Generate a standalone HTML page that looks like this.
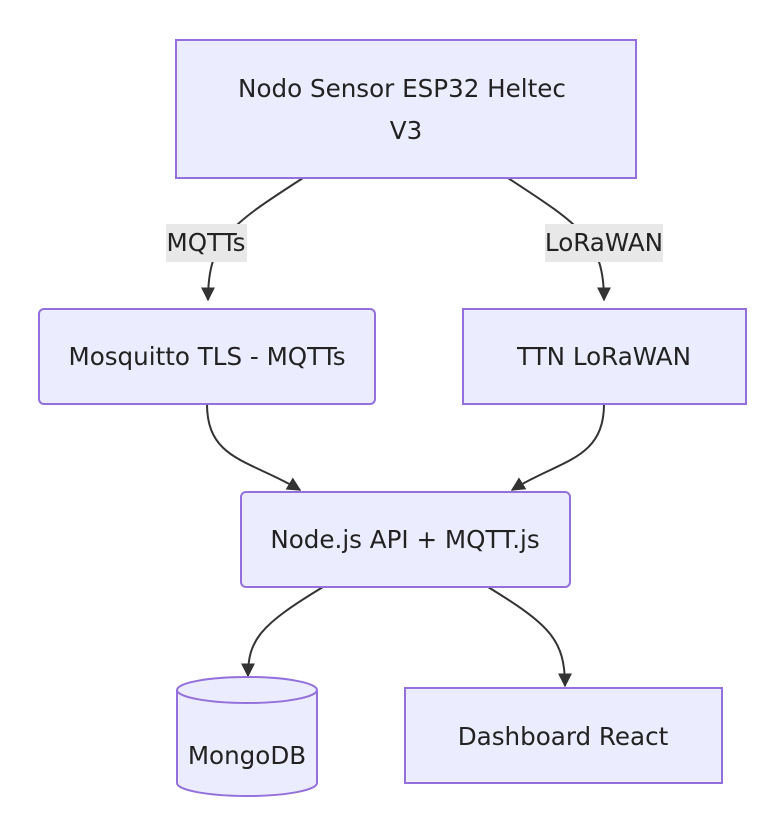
<!DOCTYPE html>
<html><head><style>
body{margin:0;background:#fff;}
svg text{font-family:"DejaVu Sans","Liberation Sans",sans-serif;font-size:24.6px;fill:#222;}
</style></head><body>
<svg width="780" height="820" xmlns="http://www.w3.org/2000/svg">
<defs><marker id="a" viewBox="0 0 10 10" refX="9" refY="5" markerWidth="7" markerHeight="7" orient="auto"><path d="M0,0L10,5L0,10z" fill="#333"/></marker></defs>
<g fill="none" stroke="#333" stroke-width="2">
<path d="M303,178 C230,225 208,240 208,300" marker-end="url(#a)"/>
<path d="M508,178 C580,225 604,240 604,300" marker-end="url(#a)"/>
<path d="M207,404 C207,460 250,460 300,490" marker-end="url(#a)"/>
<path d="M604,404 C604,460 560,460 512,490" marker-end="url(#a)"/>
<path d="M323,587 C260,625 248,640 248,676" marker-end="url(#a)"/>
<path d="M488,587 C550,625 565,640 565,686" marker-end="url(#a)"/>
</g>
<rect x="166" y="224" width="81" height="38" fill="#e8e8e8"/>
<text x="206" y="251" text-anchor="middle">MQTTs</text>
<rect x="545" y="224" width="118" height="38" fill="#e8e8e8"/>
<text x="604" y="251" text-anchor="middle">LoRaWAN</text>
<g fill="#ECECFF" stroke="#9370DB" stroke-width="2">
<rect x="176" y="40" width="460" height="138"/>
<rect x="39" y="309" width="336" height="95" rx="5"/>
<rect x="463" y="309" width="283" height="95"/>
<rect x="241" y="492" width="329" height="95" rx="5"/>
<rect x="405" y="688" width="317" height="95"/>
<path d="M177,690 A70,13 0 0 1 317,690 L317,783 A70,13 0 0 1 177,783 Z"/>
<path d="M177,690 A70,13 0 0 0 317,690"/>
</g>
<text x="402" y="97" text-anchor="middle">Nodo Sensor ESP32 Heltec</text>
<text x="406" y="139" text-anchor="middle">V3</text>
<text x="207" y="365" text-anchor="middle">Mosquitto TLS - MQTTs</text>
<text x="604" y="365" text-anchor="middle">TTN LoRaWAN</text>
<text x="405" y="548" text-anchor="middle">Node.js API + MQTT.js</text>
<text x="247" y="764" text-anchor="middle">MongoDB</text>
<text x="563" y="745" text-anchor="middle">Dashboard React</text>
</svg>
</body></html>
